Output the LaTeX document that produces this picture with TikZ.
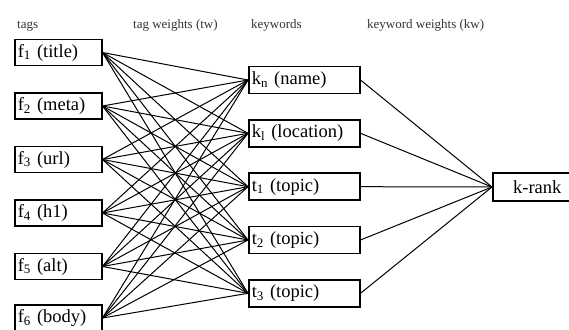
\documentclass[tikz,border=0pt]{standalone}
\usepackage{fontspec}
\setmainfont{Liberation Serif}
\begin{document}
\begin{tikzpicture}[x=1pt,y=1pt,
  hdr/.style={anchor=base west,inner sep=0pt,font=\fontsize{13}{15}\selectfont,text=black!80},
  tagbox/.style={draw,line width=1.5pt,anchor=west,minimum height=26pt,text width=81pt,inner xsep=3pt,inner ysep=0pt,align=left,font=\fontsize{18.5}{20}\selectfont},
  kwbox/.style={draw,line width=1.5pt,anchor=west,minimum height=27pt,text width=105pt,inner xsep=3pt,inner ysep=0pt,align=left,font=\fontsize{18.5}{20}\selectfont},
  rankbox/.style={draw,line width=1.5pt,anchor=west,minimum height=28pt,minimum width=89pt,inner sep=0pt,font=\fontsize{18.5}{20}\selectfont},
  link/.style={line width=1pt,black}]
\useasboundingbox (0,0) rectangle (569,329);
% headers
\node[hdr] (h1) at (17,300) {tags};
\node[hdr] (h2) at (133,300) {tag weights (tw)};
\node[hdr] (h3) at (251,300) {keywords};
\node[hdr] (h4) at (367,300) {keyword weights (kw)};
% tag boxes
\node[tagbox] (f1) at (14,276.5) {f\textsubscript{1} (title)};
\node[tagbox] (f2) at (14,223) {f\textsubscript{2} (meta)};
\node[tagbox] (f3) at (14,169.5) {f\textsubscript{3} (url)};
\node[tagbox] (f4) at (14,116) {f\textsubscript{4} (h1)};
\node[tagbox] (f5) at (14,62.5) {f\textsubscript{5} (alt)};
\node[tagbox] (f6) at (14,11) {f\textsubscript{6} (body)};
% keyword boxes
\node[kwbox] (k1) at (248,249) {k\textsubscript{n} (name)};
\node[kwbox] (k2) at (248,195.7) {k\textsubscript{l} (location)};
\node[kwbox] (k3) at (248,142.3) {t\textsubscript{1} (topic)};
\node[kwbox] (k4) at (248,89) {t\textsubscript{2} (topic)};
\node[kwbox] (k5) at (248,35.7) {t\textsubscript{3} (topic)};
% rank
\node[rankbox] (r) at (492,142) {k-rank};
% links
\foreach \f in {f1,f2,f3,f4,f5,f6}{
  \foreach \k in {k1,k2,k3,k4,k5}{
    \draw[link] (\f.east) -- (\k.west);
  }
}
\foreach \k in {k1,k2,k3,k4,k5}{
  \draw[link] (\k.east) -- (r.west);
}
\end{tikzpicture}
\end{document}
